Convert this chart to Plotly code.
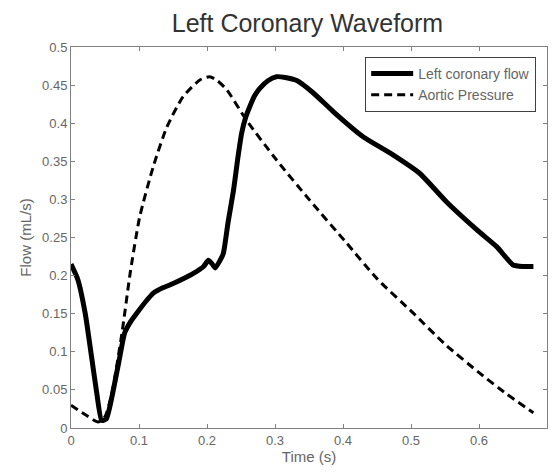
import plotly.graph_objects as go

# Left coronary flow (solid)
flow_t = [0.0, 0.010, 0.021, 0.030, 0.038, 0.045, 0.052, 0.060, 0.070, 0.079, 0.088, 0.097,
          0.110, 0.121, 0.135, 0.146, 0.165, 0.180, 0.195, 0.202, 0.207, 0.212, 0.218, 0.224,
          0.231, 0.239, 0.245, 0.251, 0.257, 0.263, 0.270, 0.278, 0.290, 0.302, 0.315, 0.332,
          0.356, 0.386, 0.430, 0.469, 0.513, 0.552, 0.597, 0.626, 0.650, 0.665, 0.680]
flow_v = [0.215, 0.195, 0.150, 0.095, 0.045, 0.010, 0.012, 0.040, 0.085, 0.125, 0.140, 0.151,
          0.166, 0.177, 0.184, 0.188, 0.196, 0.203, 0.212, 0.220, 0.216, 0.210, 0.218, 0.229,
          0.270, 0.312, 0.352, 0.387, 0.408, 0.422, 0.436, 0.446, 0.456, 0.461, 0.460, 0.456,
          0.440, 0.415, 0.382, 0.361, 0.334, 0.297, 0.260, 0.238, 0.214, 0.212, 0.212]

# Aortic pressure (dashed)
pres_t = [0.0, 0.020, 0.040, 0.050, 0.060, 0.075, 0.087, 0.101, 0.121, 0.141, 0.165, 0.190,
          0.204, 0.215, 0.229, 0.258, 0.302, 0.351, 0.405, 0.450, 0.503, 0.550, 0.601, 0.640, 0.680]
pres_v = [0.030, 0.018, 0.008, 0.015, 0.045, 0.125, 0.203, 0.277, 0.343, 0.395, 0.435, 0.457,
          0.461, 0.456, 0.444, 0.404, 0.352, 0.299, 0.243, 0.196, 0.151, 0.110, 0.072, 0.045, 0.020]

x_ticks = [0, 0.1, 0.2, 0.3, 0.4, 0.5, 0.6, 0.7]
x_tick_labels = ["0", "0.1", "0.2", "0.3", "0.4", "0.5", "0.6", "0.7"]
y_ticks = [0, 0.05, 0.1, 0.15, 0.2, 0.25, 0.3, 0.35, 0.4, 0.45, 0.5]
y_tick_labels = ["0", "0.05", "0.1", "0.15", "0.2", "0.25", "0.3", "0.35", "0.4", "0.45", "0.5"]

FONT = "Liberation Sans, Arial, sans-serif"
GRAY = "#666666"

fig = go.Figure()
fig.add_trace(go.Scatter(x=flow_t, y=flow_v, mode="lines", name="Left coronary flow",
                         line=dict(color="black", width=5, shape="spline", smoothing=0.5)))
fig.add_trace(go.Scatter(x=pres_t, y=pres_v, mode="lines", name="Aortic Pressure",
                         line=dict(color="black", width=3, dash="8px,5px", shape="spline", smoothing=0.6)))

axis_common = dict(showgrid=False, zeroline=False, showline=True, linecolor="#808080", linewidth=1,
                   mirror="ticks", ticks="inside", ticklen=4, tickcolor="#808080",
                   tickfont=dict(family=FONT, size=13, color=GRAY))

fig.update_xaxes(range=[0, 0.7], tickvals=x_ticks, ticktext=x_tick_labels,
                 title=dict(text="Time (s)", font=dict(family=FONT, size=15, color=GRAY), standoff=4),
                 **axis_common)
fig.update_yaxes(range=[0, 0.5], tickvals=y_ticks, ticktext=y_tick_labels,
                 title=dict(text="Flow (mL/s)", font=dict(family=FONT, size=15, color=GRAY), standoff=6),
                 **axis_common)

fig.update_layout(
    width=552, height=473,
    margin=dict(l=71, r=5, t=47, b=45),
    paper_bgcolor="white", plot_bgcolor="white",
    title=dict(text="Left Coronary Waveform", x=0.557, xanchor="center", y=0.95, yanchor="middle",
               font=dict(family=FONT, size=25, color="#333333")),
    showlegend=True,
    legend=dict(x=0.618, y=0.974, xanchor="left", yanchor="top",
                bgcolor="white", bordercolor="#404040", borderwidth=1,
                font=dict(family=FONT, size=14, color=GRAY),
                itemwidth=42, tracegroupgap=0),
)

fig.write_html("out.html")
